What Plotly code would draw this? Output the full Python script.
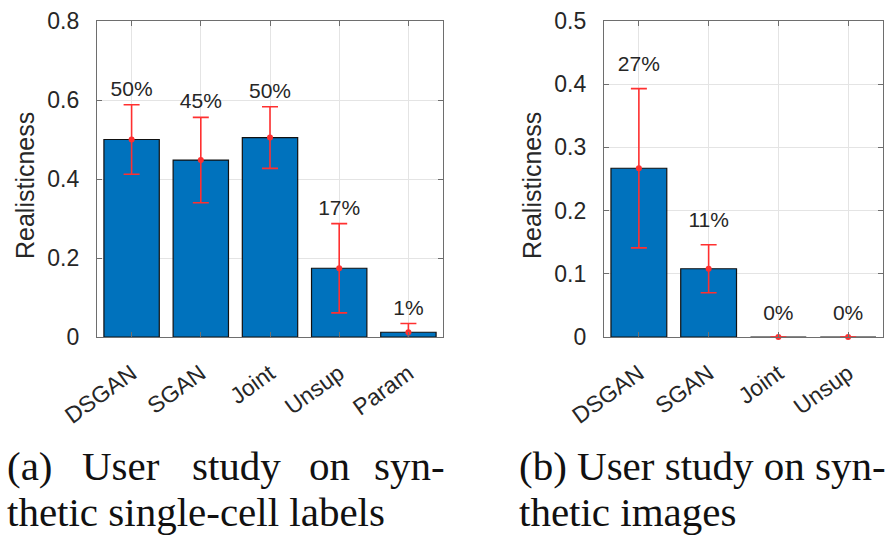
import plotly.graph_objects as go

# ---- data ----
labels_a = ["DSGAN", "SGAN", "Joint", "Unsup", "Param"]
real_a = [0.500, 0.448, 0.505, 0.174, 0.012]
err_a = [0.088, 0.108, 0.078, 0.113, 0.022]
pct_a = ["50%", "45%", "50%", "17%", "1%"]

labels_b = ["DSGAN", "SGAN", "Joint", "Unsup"]
real_b = [0.267, 0.108, 0.0, 0.0]
err_b = [0.126, 0.038, 0.0, 0.0]
pct_b = ["27%", "11%", "0%", "0%"]

yticks_a = [0, 0.2, 0.4, 0.6, 0.8]
yticks_b = [0, 0.1, 0.2, 0.3, 0.4, 0.5]

caption_a1 = ["(a)", "User", "study", "on", "syn-"]
caption_a2 = "thetic single-cell labels"
caption_b1 = "(b) User study on syn-"
caption_b2 = "thetic images"

LABEL_PAD = 0.036
W, H = 891, 538

BAR_COLOR = "#0072BD"
ERR_COLOR = "#ff3030"
AX_COLOR = "#6e6e6e"
TXT_COLOR = "#262626"
SANS = "Liberation Sans, Arial, Helvetica, sans-serif"
SERIF = "Liberation Serif, Times New Roman, serif"

fig = go.Figure()


def add_panel(labels, vals, errs, pcts, xa, ya):
    fig.add_trace(go.Bar(
        x=labels, y=vals, width=0.8, marker=dict(color=BAR_COLOR, line=dict(color="#111111", width=1.2)),
        xaxis=xa, yaxis=ya, showlegend=False, hoverinfo="skip"))
    fig.add_trace(go.Scatter(
        x=labels, y=vals, mode="markers",
        marker=dict(color=ERR_COLOR, size=6),
        error_y=dict(type="data", array=errs, visible=True, color=ERR_COLOR, thickness=1.6, width=8),
        xaxis=xa, yaxis=ya, showlegend=False, hoverinfo="skip", cliponaxis=False))
    fig.add_trace(go.Scatter(
        x=labels, y=[v + e + LABEL_PAD for v, e in zip(vals, errs)], mode="text",
        text=pcts, textposition="middle center",
        textfont=dict(family=SANS, size=21, color=TXT_COLOR),
        xaxis=xa, yaxis=ya, showlegend=False, hoverinfo="skip", cliponaxis=False))


add_panel(labels_a, real_a, err_a, pct_a, "x", "y")
add_panel(labels_b, real_b, err_b, pct_b, "x2", "y2")

common_x = dict(
    type="category", showgrid=True, gridcolor="#e4e4e4", gridwidth=1,
    showline=True, linecolor=AX_COLOR, linewidth=1.2, mirror="ticks",
    ticks="inside", ticklen=5, tickcolor=AX_COLOR, tickangle=-36,
    tickfont=dict(family=SANS, size=23, color=TXT_COLOR), ticklabelstandoff=13,
    zeroline=False, fixedrange=True, automargin=False)
common_y = dict(
    showgrid=True, gridcolor="#e4e4e4", gridwidth=1,
    showline=True, linecolor=AX_COLOR, linewidth=1.2, mirror="ticks",
    ticks="inside", ticklen=5, tickcolor=AX_COLOR,
    tickfont=dict(family=SANS, size=23, color=TXT_COLOR), ticklabelstandoff=12,
    zeroline=False, fixedrange=True, automargin=False)

fig.update_layout(
    width=W, height=H, margin=dict(l=0, r=0, t=0, b=0, autoexpand=False),
    paper_bgcolor="white", plot_bgcolor="white", bargap=0.2,
    xaxis=dict(common_x, domain=[97 / W, 443 / W], range=[-0.5, 4.5], anchor="y"),
    yaxis=dict(common_y, domain=[1 - 337 / H, 1 - 21 / H], range=[0, 0.8], tickvals=yticks_a, anchor="x"),
    xaxis2=dict(common_x, domain=[604 / W, 883 / W], range=[-0.5, 3.5], anchor="y2"),
    yaxis2=dict(common_y, domain=[1 - 337 / H, 1 - 21 / H], range=[0, 0.5], tickvals=yticks_b, anchor="x2"),
)

# y-axis titles
for xpx in (25, 532):
    fig.add_annotation(text="Realisticness", xref="paper", yref="paper", x=xpx / W, y=1 - 186 / H,
                       textangle=-90, showarrow=False, xanchor="center", yanchor="middle",
                       font=dict(family=SANS, size=25, color=TXT_COLOR))

# captions
cap_font = dict(family=SERIF, size=41, color="#111111")
y1 = 1 - 466 / H
y2 = 1 - 512 / H
word_x = [5, 80, 190, 307, 447]
for i, (w, xpx) in enumerate(zip(caption_a1, word_x)):
    fig.add_annotation(text=w, xref="paper", yref="paper", x=xpx / W, y=y1, showarrow=False,
                       xanchor="right" if i == len(caption_a1) - 1 else "left", yanchor="middle", font=cap_font)
fig.add_annotation(text=caption_a2, xref="paper", yref="paper", x=5 / W, y=y2, showarrow=False,
                   xanchor="left", yanchor="middle", font=cap_font)
fig.add_annotation(text=caption_b1, xref="paper", yref="paper", x=517 / W, y=y1, showarrow=False,
                   xanchor="left", yanchor="middle", font=cap_font)
fig.add_annotation(text=caption_b2, xref="paper", yref="paper", x=517 / W, y=y2, showarrow=False,
                   xanchor="left", yanchor="middle", font=cap_font)

fig.write_html("out.html")
